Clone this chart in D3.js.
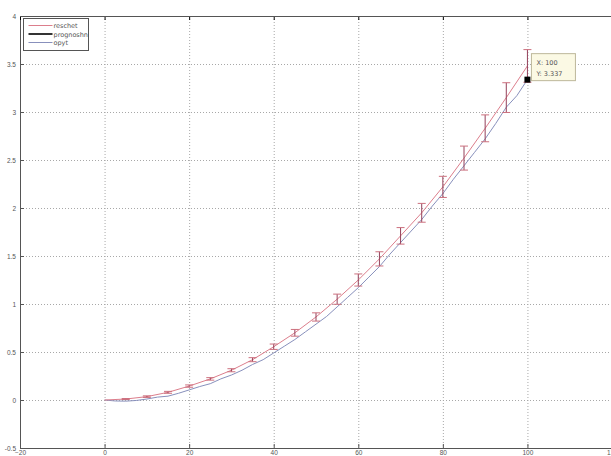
<!DOCTYPE html>
<html lang="en">
    <head>
        <meta charset="UTF-8">
        <style>
            html, body{
                margin: 0;
                padding: 0;
                background: #fff;
                font-family: 'DejaVu Sans', sans-serif;
            }
            svg{ display: block; }
            .grid line{
                stroke: #a8a8a8;
                stroke-width: 1;
                stroke-dasharray: 1 2;
            }
            .tick-label{
                font-size: 6.5px;
                fill: #555;
            }
        </style>
    </head>
    <body>
        <svg id="chart" width="611" height="456"></svg>

        <script src="https://d3js.org/d3.v7.min.js"></script>
        <script>
            //// DATA ////
            const xTicks = [-20, 0, 20, 40, 60, 80, 100, 120]
            const yTicks = [-0.5, 0, 0.5, 1, 1.5, 2, 2.5, 3, 3.5, 4]
            const yTickLabels = ['-0.5', '0', '0.5', '1', '1.5', '2', '2.5', '3', '3.5', '4']

            // reschet (with prognoshn error bars around it)
            const reschetX = [0, 5, 10, 15, 20, 25, 30, 35, 40, 45, 50, 55, 60, 65, 70, 75, 80, 85, 90, 95, 100]
            const reschetY = [0, 0.01, 0.035, 0.08, 0.145, 0.22, 0.31, 0.42, 0.555, 0.70, 0.865, 1.05, 1.25, 1.47, 1.71, 1.95, 2.22, 2.52, 2.83, 3.15, 3.48]
            const prognoshnErr = [0, 0.005, 0.008, 0.01, 0.012, 0.013, 0.016, 0.021, 0.028, 0.035, 0.043, 0.053, 0.063, 0.074, 0.086, 0.098, 0.11, 0.125, 0.14, 0.155, 0.17]

            // opyt
            const opytX = [0, 2.5, 5, 7.5, 10, 12.5, 15, 17.5, 20, 22.5, 25, 27.5, 30, 32.5, 35, 37.5, 40, 42.5, 45, 47.5, 50,
                           52.5, 55, 57.5, 60, 62.5, 65, 67.5, 70, 72.5, 75, 77.5, 80, 82.5, 85, 87.5, 90, 92.5, 95, 97.5, 100]
            const opytY = [0, -0.01, -0.012, -0.005, 0.01, 0.03, 0.04, 0.07, 0.105, 0.14, 0.17, 0.22, 0.26, 0.31, 0.37, 0.42, 0.49, 0.56, 0.63, 0.71, 0.79,
                           0.87, 0.97, 1.07, 1.17, 1.28, 1.39, 1.52, 1.64, 1.76, 1.88, 2.02, 2.15, 2.30, 2.44, 2.58, 2.72, 2.88, 3.05, 3.17, 3.337]

            const legendNames = ['reschet', 'prognoshn', 'opyt']
            const legendColors = ['#dc7e8c', '#000', '#8890bc']
            const legendWidths = [1, 1.6, 1]

            const tip = {x: 100, y: 3.337}

            //// SETUP ////
            const svg = d3.select('#chart')
            const plot = {left: 20, right: 612, top: 16, bottom: 448}

            const x = d3.scaleLinear().domain([-20, 120]).range([plot.left, plot.right])
            const y = d3.scaleLinear().domain([-0.5, 4]).range([plot.bottom, plot.top])

            // grid
            const grid = svg.append('g').attr('class', 'grid')
            grid.selectAll('.gx').data(xTicks.slice(1, -1)).join('line')
                .attr('x1', d => x(d) + 0.5).attr('x2', d => x(d) + 0.5)
                .attr('y1', plot.top).attr('y2', plot.bottom)
            grid.selectAll('.gy').data(yTicks.slice(1, -1)).join('line')
                .attr('x1', plot.left).attr('x2', plot.right)
                .attr('y1', d => y(d) + 0.5).attr('y2', d => y(d) + 0.5)

            // axes
            const xAxis = d3.axisBottom(x).tickValues(xTicks).tickSize(-4).tickPadding(2)
            const yAxis = d3.axisLeft(y).tickValues(yTicks).tickSize(-4).tickPadding(4)
                .tickFormat((d, i) => yTickLabels[i])

            const gx = svg.append('g').attr('transform', `translate(0,${plot.bottom})`).call(xAxis)
            const gy = svg.append('g').attr('transform', `translate(${plot.left},0)`).call(yAxis)
            svg.append('g').attr('transform', `translate(0,${plot.top})`)
                .call(d3.axisTop(x).tickValues(xTicks).tickSize(-4).tickFormat(''))
                .select('.domain').remove()
            ;[gx, gy].forEach(g => {
                g.select('.domain').attr('stroke', '#555')
                g.selectAll('.tick line').attr('stroke', '#555')
                g.selectAll('.tick text').attr('class', 'tick-label').attr('font-family', null).attr('font-size', null)
            })
            svg.append('line').attr('x1', plot.left).attr('x2', plot.right)
                .attr('y1', plot.top + 0.5).attr('y2', plot.top + 0.5).attr('stroke', '#555')

            // lines
            const line = d3.line().x(d => x(d[0])).y(d => y(d[1]))

            svg.append('path')
                .datum(opytX.map((d, i) => [d, opytY[i]]))
                .attr('d', line).attr('fill', 'none')
                .attr('stroke', legendColors[2]).attr('stroke-width', 1)

            svg.append('path')
                .datum(reschetX.map((d, i) => [d, reschetY[i]]))
                .attr('d', line).attr('fill', 'none')
                .attr('stroke', legendColors[0]).attr('stroke-width', 1)

            // error bars
            const errData = reschetX.map((d, i) => ({x: d, y: reschetY[i], e: prognoshnErr[i]})).filter(d => d.x > 0)
            const eb = svg.append('g')
            eb.selectAll('.bar').data(errData).join('line')
                .attr('x1', d => x(d.x)).attr('x2', d => x(d.x))
                .attr('y1', d => y(d.y - d.e)).attr('y2', d => y(d.y + d.e))
                .attr('stroke', '#94405a').attr('stroke-width', 1)
            eb.selectAll('.capT').data(errData).join('line')
                .attr('x1', d => x(d.x) - 4).attr('x2', d => x(d.x) + 4)
                .attr('y1', d => y(d.y + d.e)).attr('y2', d => y(d.y + d.e))
                .attr('stroke', '#cc707e').attr('stroke-width', 1)
            eb.selectAll('.capB').data(errData).join('line')
                .attr('x1', d => x(d.x) - 4).attr('x2', d => x(d.x) + 4)
                .attr('y1', d => y(d.y - d.e)).attr('y2', d => y(d.y - d.e))
                .attr('stroke', '#cc707e').attr('stroke-width', 1)

            // data tip
            svg.append('rect')
                .attr('x', x(tip.x) - 3).attr('y', y(tip.y) - 3)
                .attr('width', 6).attr('height', 6).attr('fill', '#000')
            const tipG = svg.append('g').attr('transform', `translate(${x(tip.x) + 4},${y(tip.y) - 26})`)
            tipG.append('rect').attr('width', 44).attr('height', 27)
                .attr('fill', '#fbf9e4').attr('stroke', '#bdb79a').attr('stroke-width', 1)
            tipG.append('text').attr('x', 5).attr('y', 11).attr('class', 'tick-label').text('X: ' + tip.x)
            tipG.append('text').attr('x', 5).attr('y', 22).attr('class', 'tick-label').text('Y: ' + tip.y)

            // legend
            const lg = svg.append('g').attr('transform', 'translate(23.5,18.5)')
            lg.append('rect').attr('width', 65).attr('height', 32)
                .attr('fill', '#fff').attr('stroke', '#555').attr('stroke-width', 1)
            const rows = lg.selectAll('.row').data(legendNames).join('g')
                .attr('transform', (d, i) => `translate(0,${7 + i * 8.5})`)
            rows.append('line').attr('x1', 5).attr('x2', 29)
                .attr('stroke', (d, i) => legendColors[i])
                .attr('stroke-width', (d, i) => legendWidths[i])
            rows.append('text').attr('x', 30).attr('y', 2.5).attr('class', 'tick-label').text(d => d)
        </script>
    </body>
</html>
